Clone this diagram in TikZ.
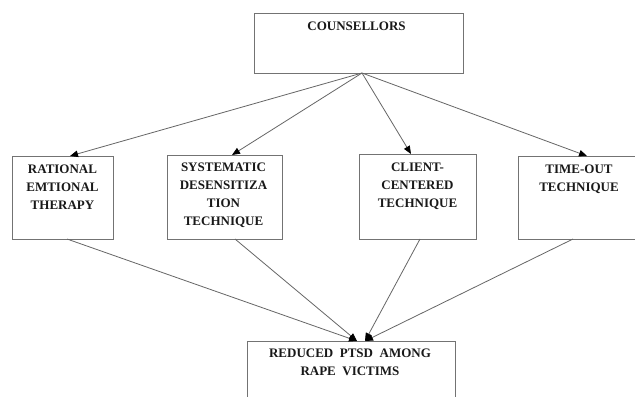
\documentclass[tikz,border=0pt]{standalone}
\usepackage{fontspec}
\setmainfont{Liberation Serif}
\usetikzlibrary{arrows.meta}
\tikzset{
  box/.style={draw=black!55, line width=0.9bp, fill=white, inner sep=0pt, outer sep=0pt},
  lbl/.style={anchor=north, inner sep=0pt, align=center, text=black!90,
              font=\bfseries\fontsize{13bp}{18bp}\selectfont},
  conn/.style={draw=black!60, line width=0.8bp,
               -{Triangle[length=8bp,width=6.5bp,color=black]}}
}
\begin{document}
\begin{tikzpicture}[x=1bp,y=-1bp]
\useasboundingbox (0,0) rectangle (635,396);
\fill[white] (0,0) rectangle (635,396);
% boxes
\node[box, minimum width=209bp, minimum height=60bp] (c) at (358.5,43) {};
\node[box, minimum width=101bp, minimum height=83bp] (r) at (62.5,197.5) {};
\node[box, minimum width=115bp, minimum height=84bp] (s) at (224.5,197) {};
\node[box, minimum width=117bp, minimum height=85bp] (cl) at (417.5,196.5) {};
\node[box, minimum width=122bp, minimum height=83bp] (t) at (579,197.5) {};
\node[box, minimum width=208bp, minimum height=62bp] (b) at (351,372) {};
% labels
\node[lbl] (cT) at ([xshift=-2bp,yshift=-8.5bp]c.north) {COUNSELLORS};
\node[lbl] (rT) at ([yshift=-8.5bp]r.north) {RATIONAL\\EMTIONAL\\THERAPY};
\node[lbl] (sT) at ([xshift=-1bp,yshift=-8bp]s.north) {SYSTEMATIC\\DESENSITIZA\\TION\\TECHNIQUE};
\node[lbl] (clT) at ([yshift=-9bp]cl.north) {CLIENT-\\CENTERED\\TECHNIQUE};
\node[lbl] (tT) at ([yshift=-9bp]t.north) {TIME-OUT\\TECHNIQUE};
\node[lbl] (bT) at ([xshift=-1bp,yshift=-8bp]b.north) {REDUCED\ \ PTSD\ \ AMONG\\RAPE\ \ VICTIMS};
% connectors
\coordinate (cs) at ([xshift=3.5bp]c.south);
\draw[conn] (cs) -- ([xshift=7.5bp]r.north);
\draw[conn] (cs) -- ([xshift=7.5bp]s.north);
\draw[conn] (cs) -- ([xshift=-6.5bp]cl.north);
\draw[conn] (cs) -- ([xshift=8bp]t.north);
\draw[conn] ([xshift=4.5bp]r.south) -- ([xshift=6bp]b.north);
\draw[conn] ([xshift=10.5bp]s.south) -- ([xshift=6bp]b.north);
\draw[conn] ([xshift=2.5bp]cl.south) -- ([xshift=14bp]b.north);
\draw[conn] ([xshift=-6bp]t.south) -- ([xshift=14bp]b.north);
\end{tikzpicture}
\end{document}
